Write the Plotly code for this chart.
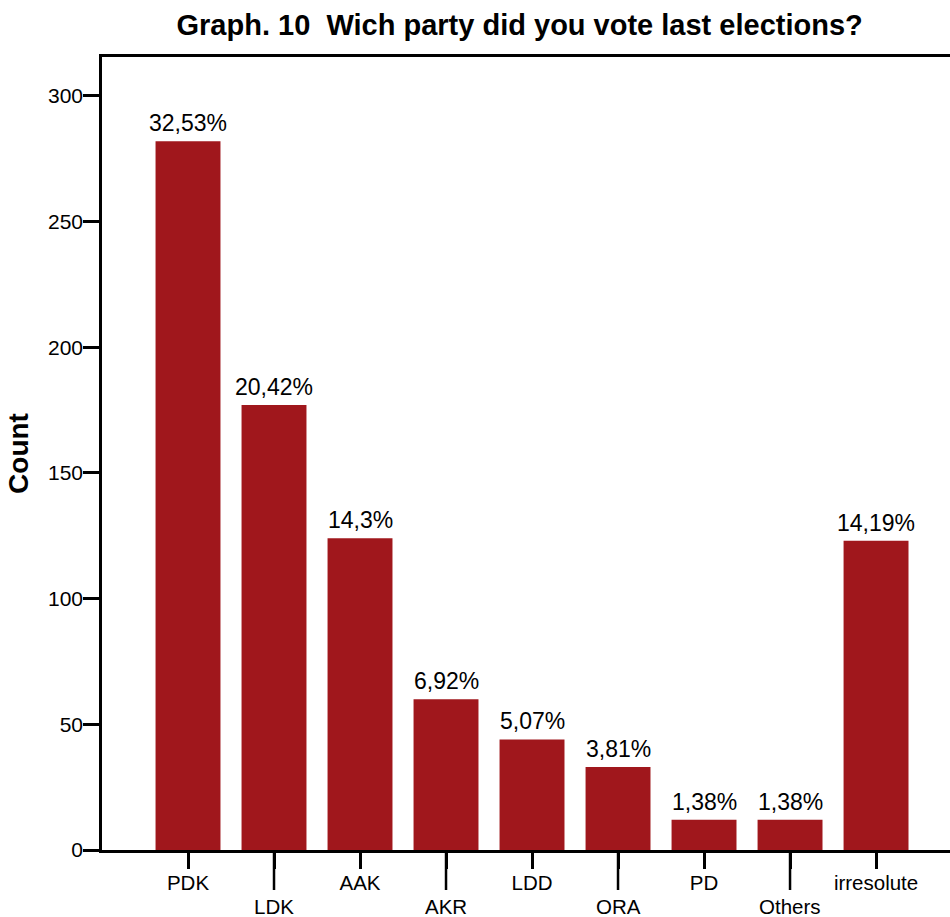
import plotly.graph_objects as go

categories = ["PDK", "LDK", "AAK", "AKR", "LDD", "ORA", "PD", "Others", "irresolute"]
counts = [282, 177, 124, 60, 44, 33, 12, 12, 123]
pct_labels = ["32,53%", "20,42%", "14,3%", "6,92%", "5,07%", "3,81%", "1,38%", "1,38%", "14,19%"]
y_ticks = [0, 50, 100, 150, 200, 250, 300]

FONT = "Liberation Sans, Arial, sans-serif"
BAR = "#A0171C"

ticktext = [c if i % 2 == 0 else "" for i, c in enumerate(categories)]

fig = go.Figure(go.Bar(
    x=categories, y=counts,
    marker=dict(color=BAR, line=dict(width=0)),
    cliponaxis=False, width=0.755, hoverinfo="x+y",
))

annotations = [
    dict(x=c, y=v, xref="x", yref="y", text=t, showarrow=False,
         yanchor="bottom", yshift=3, font=dict(size=23, color="black", family=FONT))
    for c, v, t in zip(categories, counts, pct_labels)
]
annotations += [
    dict(x=c, y=0, xref="x", yref="paper", text=c, showarrow=False,
         yanchor="middle", yshift=-56, font=dict(size=20.5, color="black", family=FONT))
    for i, c in enumerate(categories) if i % 2 == 1
]

plot_h = 917 - 57 - 67
long_len = 40 / plot_h
shapes = []
for i, c in enumerate(categories):
    if i % 2 == 1:
        shapes.append(dict(type="line", xref="x", yref="paper", x0=c, x1=c,
                           y0=0, y1=-long_len, line=dict(color="black", width=2.5)))

fig.update_layout(
    width=950, height=917,
    margin=dict(l=102, r=0, t=57, b=67, autoexpand=False),
    plot_bgcolor="white", paper_bgcolor="white",
    font=dict(family=FONT, color="black", size=21),
    title=dict(text="<b>Graph. 10\u00a0\u00a0Wich party did you vote last elections?</b>",
               x=0.547, xanchor="center", y=0.973, yanchor="middle",
               font=dict(size=29, family=FONT, color="black")),
    showlegend=False,
    shapes=shapes,
    annotations=annotations,
    xaxis=dict(
        type="category", categoryorder="array", categoryarray=categories,
        tickmode="array", tickvals=categories, ticktext=ticktext,
        range=[-1, 8.86], showline=True, linecolor="black", linewidth=2.5,
        mirror=True, ticks="outside", ticklen=16, tickwidth=2.5, tickcolor="black",
        showgrid=False, zeroline=False, tickfont=dict(size=20.5, family=FONT),
        ticklabelstandoff=-3, automargin=False,
    ),
    yaxis=dict(
        range=[0, 315.5], tickvals=y_ticks, showline=True, linecolor="black",
        linewidth=2.5, ticks="outside", ticklen=16, tickwidth=2.5, tickcolor="black",
        showgrid=False, zeroline=False, tickfont=dict(size=21, family=FONT),
        ticklabelstandoff=-4,
        title=dict(text="<b>Count</b>", font=dict(size=28, family=FONT), standoff=12),
        automargin=False,
    ),
)

fig.write_html("out.html", config={"displayModeBar": False},
               post_script="document.body.style.margin='0';document.body.style.overflow='hidden';")
